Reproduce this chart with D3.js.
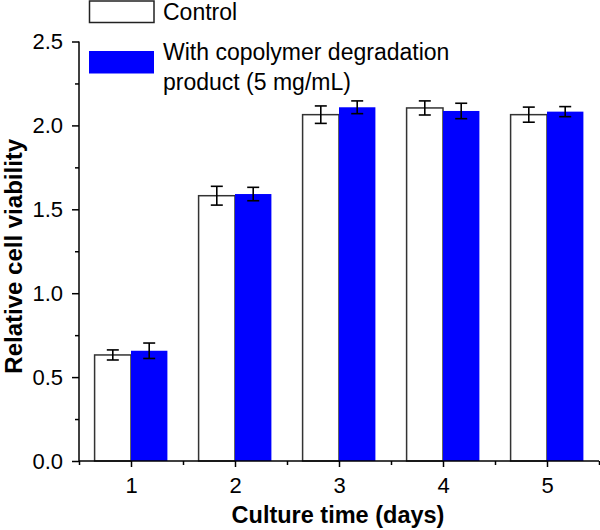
<!DOCTYPE html>
<html>
<head>
<meta charset="utf-8">
<script src="https://cdn.jsdelivr.net/npm/d3@7"></script>
<style>
  html, body { margin: 0; padding: 0; background: #fff; }
  text { font-family: "Liberation Sans", Arial, sans-serif; }
</style>
</head>
<body>
<svg id="chart" width="600" height="530"></svg>
<script>
// ---- Data ----
const days = [1, 2, 3, 4, 5];
const controlValues = [0.632, 1.581, 2.064, 2.104, 2.064];
const controlErrors = [0.03, 0.056, 0.052, 0.042, 0.045];
const treatedValues = [0.657, 1.591, 2.108, 2.086, 2.082];
const treatedErrors = [0.046, 0.04, 0.038, 0.046, 0.03];
const yMajorTicks = [0, 0.5, 1.0, 1.5, 2.0, 2.5];
const yMinorTicks = [0.25, 0.75, 1.25, 1.75, 2.25];
const xMinorTicks = [0.5, 1.5, 2.5, 3.5, 4.5, 5.5];
const seriesNames = ["Control", "With copolymer degradation", "product (5 mg/mL)"];
const xTitle = "Culture time (days)";
const yTitle = "Relative cell viability";

// ---- Layout ----
const svg = d3.select("#chart");
const x = d3.scaleLinear().domain([0.5, 5.5]).range([79, 599]);
const y = d3.scaleLinear().domain([0, 2.5]).range([461, 41.5]);
const barW = 0.35; // in category units
const blue = "#0000ff";

// Bars
const g = svg.append("g");
const ctrl = days.map((d, i) => ({d, v: controlValues[i], e: controlErrors[i]}));
const trt = days.map((d, i) => ({d, v: treatedValues[i], e: treatedErrors[i]}));

g.selectAll("rect.ctrl").data(ctrl).join("rect")
  .attr("class", "ctrl")
  .attr("x", p => x(p.d - barW))
  .attr("y", p => y(p.v))
  .attr("width", p => x(p.d) - x(p.d - barW))
  .attr("height", p => y(0) - y(p.v))
  .attr("fill", "#fff").attr("stroke", "#333").attr("stroke-width", 1.5);

g.selectAll("rect.trt").data(trt).join("rect")
  .attr("class", "trt")
  .attr("x", p => x(p.d))
  .attr("y", p => y(p.v))
  .attr("width", p => x(p.d + barW) - x(p.d))
  .attr("height", p => y(0) - y(p.v))
  .attr("fill", blue);

// Error bars
function errorBars(data, offset, cls) {
  const eg = g.selectAll("g." + cls).data(data).join("g").attr("class", cls);
  const cx = p => x(p.d + offset);
  eg.append("line").attr("x1", cx).attr("x2", cx)
    .attr("y1", p => y(p.v - p.e)).attr("y2", p => y(p.v + p.e));
  eg.append("line").attr("x1", p => cx(p) - 6).attr("x2", p => cx(p) + 6)
    .attr("y1", p => y(p.v + p.e)).attr("y2", p => y(p.v + p.e));
  eg.append("line").attr("x1", p => cx(p) - 6).attr("x2", p => cx(p) + 6)
    .attr("y1", p => y(p.v - p.e)).attr("y2", p => y(p.v - p.e));
  eg.selectAll("line").attr("stroke", "#000").attr("stroke-width", 1.6);
}
errorBars(ctrl, -barW / 2, "errc");
errorBars(trt, barW / 2, "errt");

// Axes
const yAxis = svg.append("g").attr("transform", `translate(${x(0.5)},0)`)
  .call(d3.axisLeft(y).tickValues(yMajorTicks).tickFormat(d3.format(".1f"))
        .tickSize(7).tickPadding(9));
const yMinor = svg.append("g").attr("transform", `translate(${x(0.5)},0)`)
  .call(d3.axisLeft(y).tickValues(yMinorTicks).tickFormat("").tickSize(4));
yMinor.select(".domain").remove();

const xAxis = svg.append("g").attr("transform", `translate(0,${y(0)})`)
  .call(d3.axisBottom(x).tickValues(days).tickFormat(d3.format("d"))
        .tickSize(6).tickPadding(10));
const xMinor = svg.append("g").attr("transform", `translate(0,${y(0)})`)
  .call(d3.axisBottom(x).tickValues(xMinorTicks).tickFormat("").tickSize(4));
xMinor.select(".domain").remove();

[yAxis, xAxis].forEach(a => {
  a.select(".domain").attr("stroke", "#000").attr("stroke-width", 1.5);
  a.selectAll("text").attr("font-size", 22).attr("fill", "#000")
    .style("font-family", '"Liberation Sans", Arial, sans-serif');
});
yAxis.select(".domain").attr("d", `M0,${y(2.5)}V${y(0)}`);
xAxis.select(".domain").attr("d", `M${x(0.5)},0H${x(5.5)}`);
[yAxis, xAxis, yMinor, xMinor].forEach(a =>
  a.selectAll(".tick line").attr("stroke", "#000").attr("stroke-width", 1.5));

// Axis titles
svg.append("text").attr("x", (x(0.5) + x(5.5)) / 2 - 1).attr("y", 523)
  .attr("text-anchor", "middle").attr("font-size", 23.5).attr("font-weight", "bold")
  .text(xTitle);
svg.append("text")
  .attr("transform", `translate(21.5,${(y(0) + y(2.5)) / 2 + 5}) rotate(-90)`)
  .attr("text-anchor", "middle").attr("font-size", 24).attr("font-weight", "bold")
  .text(yTitle);

// Legend
const lg = svg.append("g");
lg.append("rect").attr("x", 89.5).attr("y", 1).attr("width", 64.5).attr("height", 21.5)
  .attr("fill", "#fff").attr("stroke", "#222").attr("stroke-width", 1.5);
lg.append("text").attr("x", 163).attr("y", 20).attr("font-size", 23).text(seriesNames[0]);
lg.append("rect").attr("x", 89).attr("y", 51).attr("width", 65).attr("height", 22.5)
  .attr("fill", blue);
lg.append("text").attr("x", 163).attr("y", 60).attr("font-size", 23).text(seriesNames[1]);
lg.append("text").attr("x", 163).attr("y", 90).attr("font-size", 23).text(seriesNames[2]);
</script>
</body>
</html>
